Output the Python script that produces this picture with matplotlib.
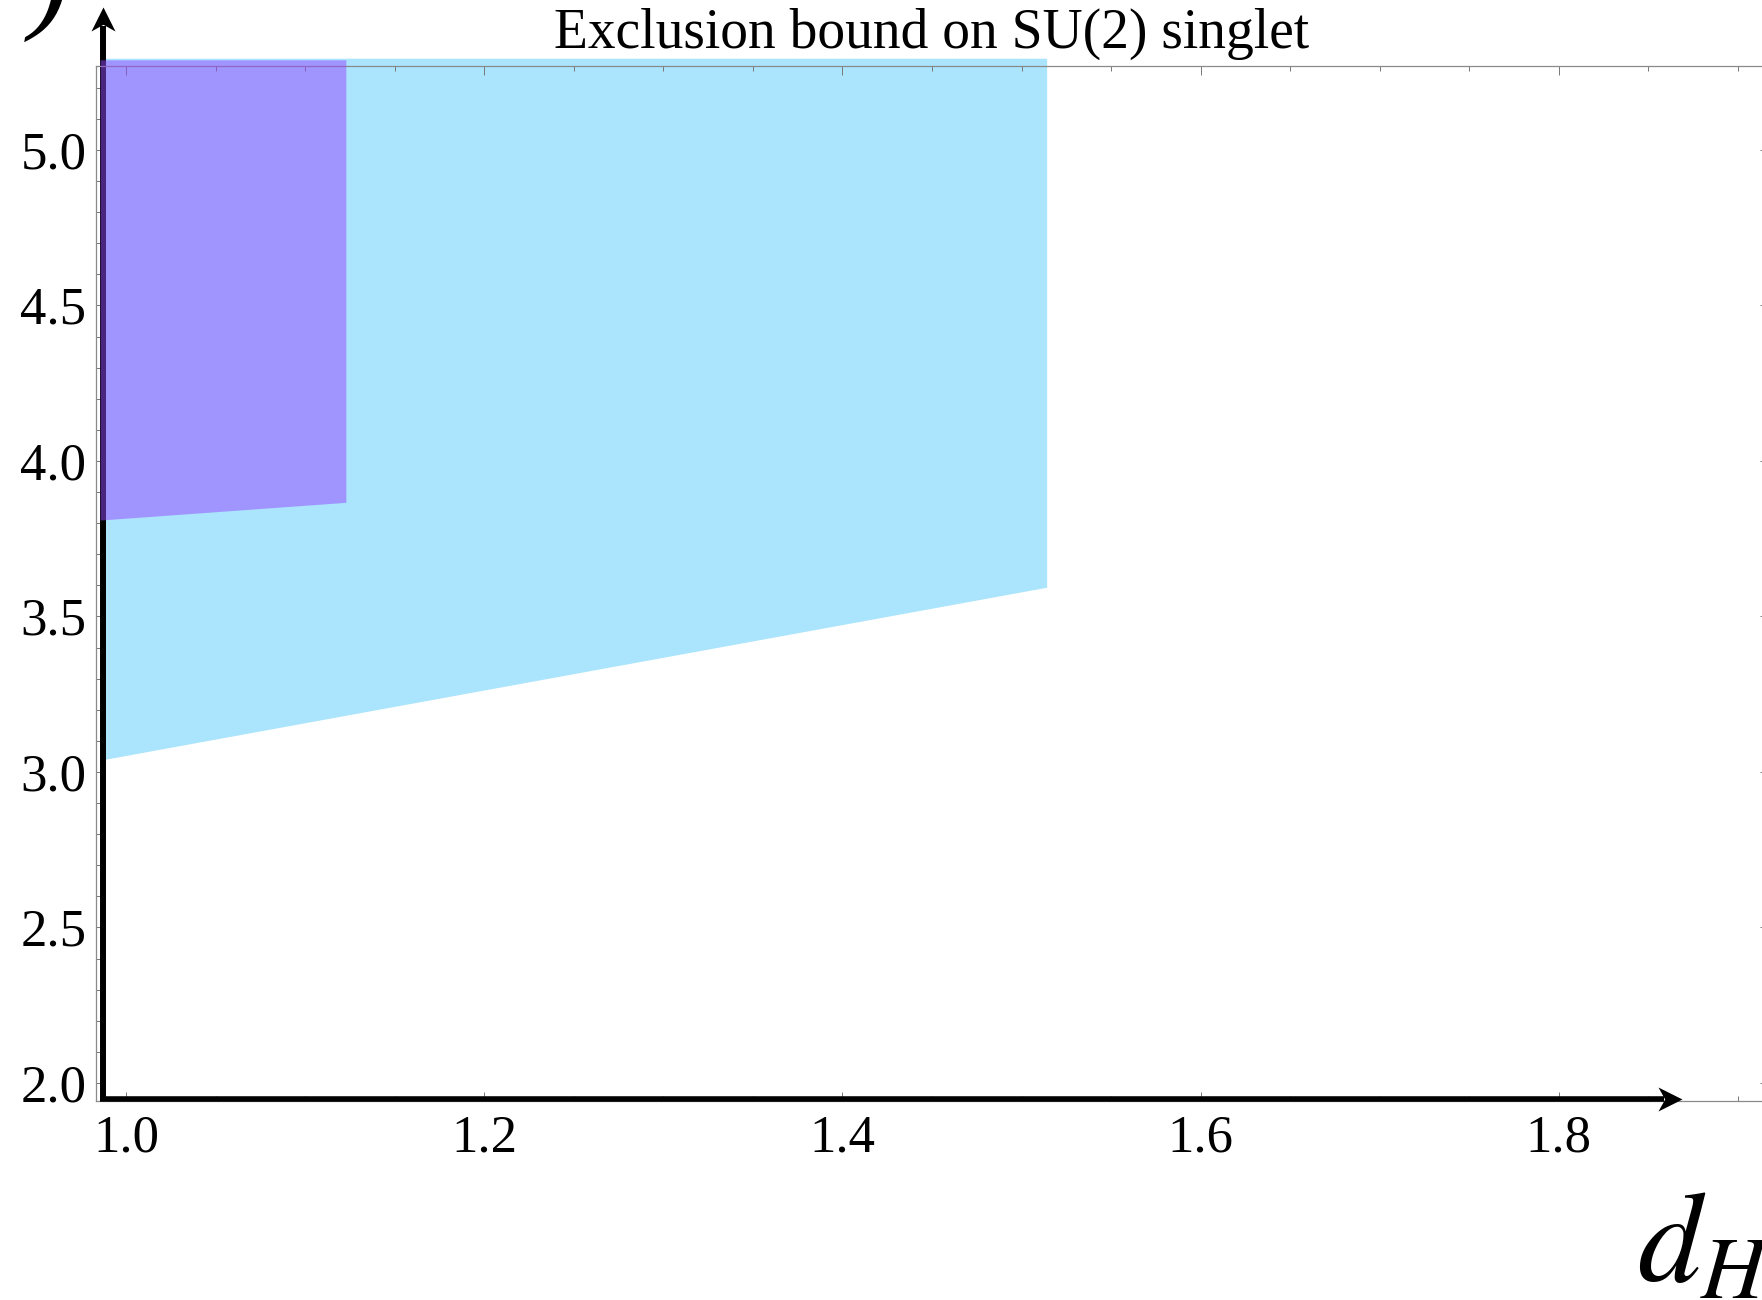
import numpy as np
import matplotlib
matplotlib.use("Agg")
import matplotlib.pyplot as plt
from matplotlib.path import Path
from matplotlib.ticker import MultipleLocator, FormatStrFormatter

plt.rcParams['font.family'] = ['Liberation Serif', 'DejaVu Serif']
plt.rcParams['mathtext.fontset'] = 'stix'

# ================================
# DATA
# ================================
# wider (cyan) excluded region
cyan_x = [0.9855, 1.514]
cyan_lower = [3.038, 3.594]
cyan_upper = [5.295, 5.295]

# stronger (purple) excluded region
purple_x = [0.9855, 1.1227]
purple_lower = [3.810, 3.867]
purple_upper = [5.29, 5.29]

x_major = [1.0, 1.2, 1.4, 1.6, 1.8]
y_major = [2.0, 2.5, 3.0, 3.5, 4.0, 4.5, 5.0]

title = "Exclusion bound on SU(2) singlet"

# ================================
# FIGURE
# ================================
W, H = 1762, 1300
fig = plt.figure(figsize=(W / 100, H / 100), dpi=100)
ax = fig.add_axes([96 / W, 199 / H, (1765 - 96) / W, (1101 - 65.7) / H])
ax.set_xlim(0.9832, 1.9151)
ax.set_ylim(1.942, 5.271)

ax.fill_between(cyan_x, cyan_lower, cyan_upper, color='#abe4fd', lw=0, zorder=1,
                clip_on=False)
ax.fill_between(purple_x, purple_lower, purple_upper, color='#9648ff', alpha=0.5,
                lw=0, zorder=3, clip_on=False)

# axes with arrow heads (Mathematica style)
up_head = Path([(0, 0), (-0.5, -1), (0, -0.72), (0.5, -1), (0, 0)],
               [Path.MOVETO, Path.LINETO, Path.LINETO, Path.LINETO, Path.CLOSEPOLY])
right_head = Path([(0, 0), (-1, 0.5), (-0.72, 0), (-1, -0.5), (0, 0)],
                  [Path.MOVETO, Path.LINETO, Path.LINETO, Path.LINETO, Path.CLOSEPOLY])
x0, y0 = 0.9872, 1.947
xtip, ytip = 1.8686, 5.459
ax.plot([x0, x0], [1.942, ytip - 0.06], color='k', lw=4.3, solid_capstyle='butt',
        clip_on=False, zorder=2)
ax.plot([x0], [ytip], marker=up_head, ms=34.6, color='k', mew=0, clip_on=False, zorder=2)
ax.plot([0.9855, xtip - 0.01], [y0, y0], color='k', lw=4.0, solid_capstyle='butt',
        clip_on=False, zorder=4)
ax.plot([xtip], [y0], marker=right_head, ms=34.6, color='k', mew=0, clip_on=False, zorder=4)

# frame and ticks
for s in ax.spines.values():
    s.set_color('#8a8a8a')
    s.set_linewidth(0.9)
ax.xaxis.set_major_locator(MultipleLocator(0.2))
ax.xaxis.set_minor_locator(MultipleLocator(0.05))
ax.yaxis.set_major_locator(MultipleLocator(0.5))
ax.yaxis.set_minor_locator(MultipleLocator(0.1))
ax.xaxis.set_major_formatter(FormatStrFormatter('%.1f'))
ax.yaxis.set_major_formatter(FormatStrFormatter('%.1f'))
ax.tick_params(axis='x', which='major', direction='in', top=True, length=6.5, width=0.7,
               color='#777777', labelsize=38, pad=10)
ax.tick_params(axis='x', which='minor', direction='in', top=True, length=3.6, width=0.7,
               color='#777777')
ax.tick_params(axis='y', which='major', direction='in', right=True, length=3.6, width=0.7,
               color='#777777', labelsize=38, pad=7)
ax.tick_params(axis='y', which='minor', direction='in', right=False, length=3.6, width=0.7,
               color='#777777')

fig.text(932 / W, 1 - 34 / H, title, fontsize=40, ha='center', va='center')
fig.text(1637 / W, 18 / H, r'$d_H$', fontsize=92, ha='left', va='baseline')
fig.text(30 / W, 1 - 16 / H, ')', fontsize=88, style='italic', ha='left', va='baseline')

fig.savefig("out.png", dpi=100)
